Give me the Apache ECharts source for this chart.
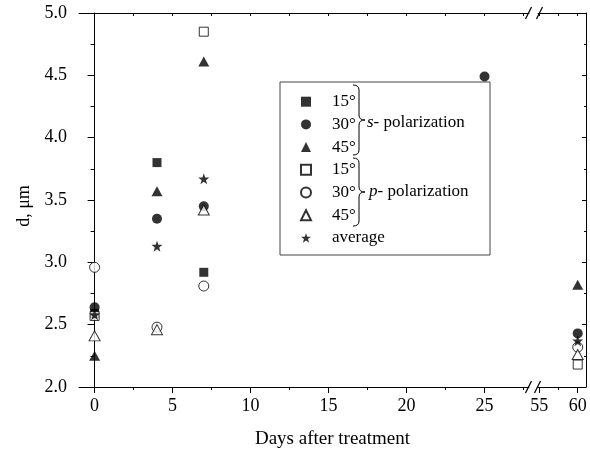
<!DOCTYPE html>
<html>
<head>
<meta charset="UTF-8">
<script src="https://cdn.jsdelivr.net/npm/echarts@6/dist/echarts.min.js"></script>
<style>
  html, body { margin: 0; padding: 0; background: #fff; }
  #main { width: 590px; height: 452px; }
</style>
</head>
<body>
<div id="main"></div>
<script>
// days after treatment, and d (um) for each series (null = no point)
var days = [0, 4, 7, 25, 60];
var s15 = [2.59, 3.80, 2.92, null, null];
var s30 = [2.64, 3.35, 3.45, 4.49, 2.43];
var s45 = [2.25, 3.57, 4.61, null, 2.82];
var p15 = [2.57, null, 4.85, null, 2.18];
var p30 = [2.96, 2.48, 2.81, null, 2.32];
var p45 = [2.41, 2.46, 3.42, null, 2.26];
var avg = [2.58, 3.13, 3.67, null, 2.37];

var leftTicks = [0, 5, 10, 15, 20, 25];
var leftMinor = [2.5, 7.5, 12.5, 17.5, 22.5, 27.5];
var rightTicks = [55, 60];
var rightMinor = [57.5];

var FONT = "'Liberation Serif', 'Times New Roman', serif";
var starPath = 'path://M0,-10L2.35,-3.24L9.51,-3.09L3.8,1.24L5.88,8.09L0,4L-5.88,8.09L-3.8,1.24L-9.51,-3.09L-2.35,-3.24Z';

// layout of the two parts of the broken x axis
var top0 = 13, h0 = 374;
var g1 = { left: 79, width: 450 };
var g2 = { left: 538, width: 48 };

var groups = [
  { name: 's 15°', vals: s15, symbol: 'rect', size: 9, filled: true },
  { name: 's 30°', vals: s30, symbol: 'circle', size: 10, filled: true },
  { name: 's 45°', vals: s45, symbol: 'triangle', size: [11, 10], filled: true },
  { name: 'p 15°', vals: p15, symbol: 'rect', size: 9, filled: false },
  { name: 'p 30°', vals: p30, symbol: 'circle', size: 10, filled: false },
  { name: 'p 45°', vals: p45, symbol: 'triangle', size: [11, 10], filled: false },
  { name: 'average', vals: avg, symbol: starPath, size: 11, filled: true }
];

var series = [];
groups.forEach(function (g) {
  var pts = [];
  days.forEach(function (d, i) {
    if (g.vals[i] != null) pts.push([d, g.vals[i]]);
  });
  var style = g.filled
    ? { color: '#000' }
    : { color: '#fff', borderColor: '#000', borderWidth: 1 };
  [0, 1].forEach(function (k) {
    series.push({
      name: g.name,
      type: 'scatter',
      xAxisIndex: k === 0 ? 0 : 3,
      yAxisIndex: k,
      symbol: g.symbol,
      symbolSize: g.size,
      itemStyle: style,
      data: pts.filter(function (p) { return k === 0 ? p[0] < 40 : p[0] >= 40; })
    });
  });
});

// curly brace "}" made of curves and lines
function brace(x, y0, y1, w) {
  var ym = (y0 + y1) / 2, r = 5, xm = x + w / 2;
  var st = { stroke: '#000', lineWidth: 1, fill: null };
  function q(x1, y1, cx, cy, x2, y2) {
    return { type: 'bezierCurve', z: 10, style: st,
      shape: { x1: x1, y1: y1, cpx1: cx, cpy1: cy, x2: x2, y2: y2 } };
  }
  function l(x1, y1, x2, y2) {
    return { type: 'line', z: 10, style: st, shape: { x1: x1, y1: y1, x2: x2, y2: y2 } };
  }
  return [
    q(x, y0, xm, y0, xm, y0 + r),
    l(xm, y0 + r, xm, ym - r),
    q(xm, ym - r, xm, ym, x + w, ym),
    q(x + w, ym, xm, ym, xm, ym + r),
    l(xm, ym + r, xm, y1 - r),
    q(xm, y1 - r, xm, y1, x, y1)
  ];
}

function slash(cx, cy) {
  return { type: 'line', shape: { x1: cx - 3, y1: cy + 6, x2: cx + 3, y2: cy - 6 },
    style: { stroke: '#000', lineWidth: 1.2 }, z: 10 };
}

var axLine = { show: true, lineStyle: { color: '#000', width: 1 } };
var lab = { color: '#000', fontSize: 18, fontFamily: FONT };

var graphics = [
  { type: 'rect', shape: { x: 280, y: 82, width: 210, height: 173 },
    style: { fill: '#fff', stroke: '#444', lineWidth: 1 }, z: 1 },
  { type: 'text', x: 367, y: 123, z: 10,
    style: { text: '{i|s}- polarization', fontSize: 17, fontFamily: FONT, fill: '#000',
      verticalAlign: 'middle', rich: { i: { fontStyle: 'italic', fontSize: 17, fontFamily: FONT } } } },
  { type: 'text', x: 369, y: 192, z: 10,
    style: { text: '{i|p}- polarization', fontSize: 17, fontFamily: FONT, fill: '#000',
      verticalAlign: 'middle', rich: { i: { fontStyle: 'italic', fontSize: 17, fontFamily: FONT } } } },
  { type: 'text', x: 332.5, y: 439, z: 10,
    style: { text: 'Days after treatment', fontSize: 19, fontFamily: FONT, fill: '#000',
      align: 'center', verticalAlign: 'middle' } },
  { type: 'text', x: 24, y: 206, rotation: Math.PI / 2, z: 10,
    style: { text: 'd, μm', fontSize: 18, fontFamily: FONT, fill: '#000',
      align: 'center', verticalAlign: 'middle' } },
  slash(528.5, top0), slash(539.5, top0),
  slash(528.5, top0 + h0), slash(537.5, top0 + h0)
].concat(brace(353, 85, 155, 12), brace(353, 158, 226, 12));

var myChart = echarts.init(document.getElementById('main'));
myChart.setOption({
  animation: false,
  textStyle: { fontFamily: FONT, color: '#000' },
  grid: [
    { left: g1.left, top: top0, width: g1.width, height: h0 },
    { left: g2.left, top: top0, width: g2.width, height: h0 }
  ],
  xAxis: [
    { gridIndex: 0, type: 'value', position: 'bottom', min: -1, max: 27.85,
      axisLine: axLine, splitLine: { show: false },
      axisTick: { customValues: leftTicks, length: 6, lineStyle: { color: '#000' } },
      axisLabel: Object.assign({ customValues: leftTicks, margin: 10 }, lab) },
    { gridIndex: 0, type: 'value', position: 'bottom', min: -1, max: 27.85,
      axisLine: { show: false }, splitLine: { show: false }, axisLabel: { show: false },
      axisTick: { customValues: leftMinor, length: 3, lineStyle: { color: '#000' } } },
    { gridIndex: 0, type: 'value', position: 'top', min: -1, max: 27.85,
      axisLine: axLine, splitLine: { show: false }, axisLabel: { show: false },
      axisTick: { inside: true, customValues: leftTicks.concat(leftMinor), length: 3, lineStyle: { color: '#000' } } },
    { gridIndex: 1, type: 'value', position: 'bottom', min: 54.83, max: 61.08,
      axisLine: axLine, splitLine: { show: false },
      axisTick: { customValues: rightTicks, length: 6, lineStyle: { color: '#000' } },
      axisLabel: Object.assign({ customValues: rightTicks, margin: 10 }, lab) },
    { gridIndex: 1, type: 'value', position: 'bottom', min: 54.83, max: 61.08,
      axisLine: { show: false }, splitLine: { show: false }, axisLabel: { show: false },
      axisTick: { customValues: rightMinor, length: 3, lineStyle: { color: '#000' } } },
    { gridIndex: 1, type: 'value', position: 'top', min: 54.83, max: 61.08,
      axisLine: axLine, splitLine: { show: false }, axisLabel: { show: false },
      axisTick: { inside: true, customValues: rightTicks.concat(rightMinor), length: 3, lineStyle: { color: '#000' } } }
  ],
  yAxis: [
    { gridIndex: 0, type: 'value', position: 'left', min: 2, max: 5, interval: 0.5,
      axisLine: axLine, splitLine: { show: false },
      axisTick: { show: true, length: 7, lineStyle: { color: '#000' } },
      minorTick: { show: true, splitNumber: 2, length: 4, lineStyle: { color: '#000' } },
      axisLabel: Object.assign({ margin: 12, formatter: function (v) { return v.toFixed(1); } }, lab) },
    { gridIndex: 1, type: 'value', position: 'right', min: 2, max: 5, interval: 0.5,
      axisLine: axLine, splitLine: { show: false }, axisLabel: { show: false },
      axisTick: { show: true, inside: true, length: 4, lineStyle: { color: '#000' } },
      minorTick: { show: true, splitNumber: 2, length: 2, lineStyle: { color: '#000' } } }
  ],
  legend: {
    orient: 'vertical',
    left: 300,
    top: 93,
    padding: 0,
    itemGap: 5.3,
    itemWidth: 10,
    itemHeight: 10,
    data: groups.map(function (g) { return g.name; }),
    formatter: function (name) { return name.replace(/^[sp] /, ''); },
    textStyle: { fontSize: 17, lineHeight: 17.4, fontFamily: FONT, color: '#000', padding: [0, 0, 0, 16] }
  },
  graphic: graphics,
  series: series
});
</script>
</body>
</html>
